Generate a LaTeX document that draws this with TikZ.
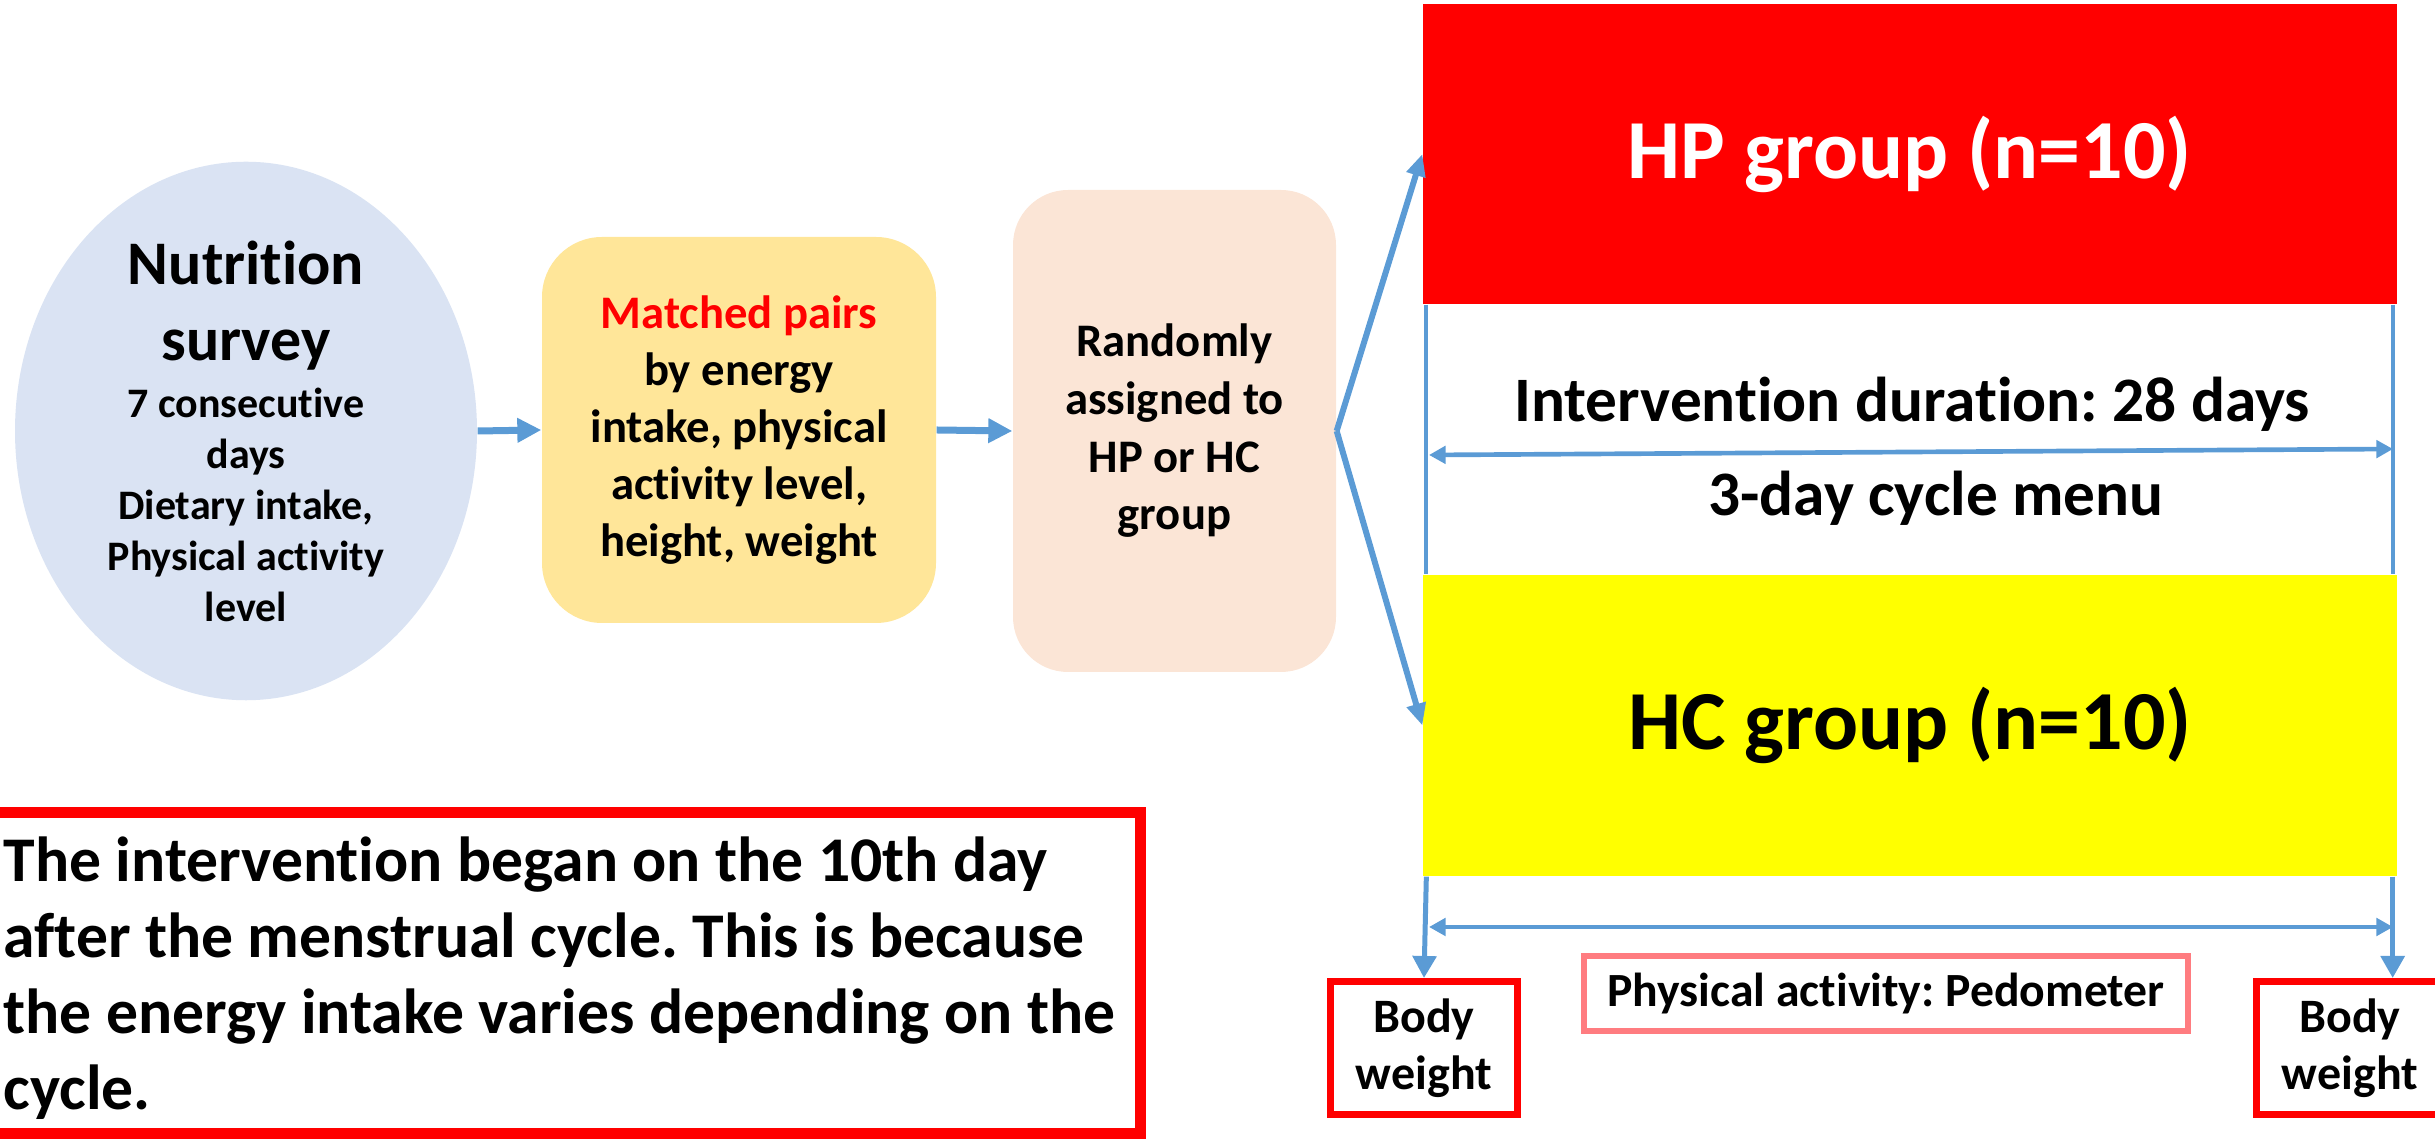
\documentclass[tikz,border=0pt]{standalone}
\usepackage{fontspec}
\setmainfont{Carlito}[Ligatures=NoCommon]
\usetikzlibrary{shapes.geometric,arrows.meta,calc}
\definecolor{arrowblue}{HTML}{5B9BD5}
\definecolor{surveyfill}{HTML}{DAE3F3}
\definecolor{matchfill}{HTML}{FFE699}
\definecolor{randfill}{HTML}{FBE5D6}
\definecolor{pinkline}{HTML}{FF7C80}
\definecolor{hpred}{HTML}{FF0000}
\definecolor{hcyellow}{HTML}{FFFF00}
\frenchspacing
\begin{document}
\begin{tikzpicture}[x=0.3pt,y=-0.3pt,
  surveynode/.style={ellipse, fill=surveyfill, minimum width=138.6pt, minimum height=141pt, inner sep=0pt, align=center, font=\bfseries\fontsize{12.6}{15.3}\selectfont},
  matchbox/.style={rectangle, rounded corners=18pt, fill=matchfill, minimum width=118.2pt, minimum height=115.8pt, inner sep=0pt, align=center, font=\bfseries\fontsize{14}{17.1}\selectfont},
  randbox/.style={rectangle, rounded corners=16.5pt, fill=randfill, minimum width=96.9pt, minimum height=144.6pt, inner sep=0pt, align=center, font=\bfseries\fontsize{14}{17.3}\selectfont},
  groupbox/.style={rectangle, minimum width=292.2pt, minimum height=90pt, inner sep=0pt, font=\bfseries\fontsize{25.2}{30}\selectfont},
  midlabel/.style={inner sep=0pt, font=\bfseries\fontsize{19}{23}\selectfont},
  bwbox/.style={rectangle, draw=hpred, line width=2.1pt, fill=white, minimum width=56.1pt, minimum height=39.9pt, inner sep=0pt, align=center, font=\bfseries\fontsize{14.4}{17.1}\selectfont},
  pedobox/.style={rectangle, draw=pinkline, line width=1.7pt, minimum width=181.2pt, minimum height=22.5pt, inner sep=0pt, font=\bfseries\fontsize{14.3}{17}\selectfont},
  notebox/.style={rectangle, draw=hpred, line width=3.3pt, minimum width=348.2pt, minimum height=96.3pt, inner sep=0pt},
  notetext/.style={inner sep=0pt, align=left, font=\bfseries\fontsize{19.1}{22.8}\selectfont},
  flowarrow/.style={draw=arrowblue, line width=2.1pt, -{Triangle[length=7.2pt,width=7pt]}},
  fanarrow/.style={draw=arrowblue, line width=1.8pt, -{Triangle[length=6.6pt,width=5.6pt]}},
  spanarrow/.style={draw=arrowblue, line width=1.4pt, {Triangle[length=5pt,width=5.2pt]}-{Triangle[length=5pt,width=5.2pt]}},
  guideline/.style={draw=arrowblue, line width=1.2pt},
  downarrow/.style={draw=arrowblue, line width=1.5pt, -{Triangle[length=6.6pt,width=7pt]}}
]
\useasboundingbox (0,0) rectangle (2435,1141);

% main flow
\node[surveynode] (survey) at (246,431)
  {{\fontsize{18.6}{22.8}\selectfont Nutrition}\\[7.5pt]
   {\fontsize{18.6}{22.8}\selectfont survey}\\[1.8pt]
   7 consecutive\\ days\\ Dietary intake,\\ Physical activity\\ level};
\node[matchbox] (match) at (739,430)
  {\textcolor{hpred}{Matched pairs}\\ by energy\\ intake, physical\\ activity level,\\ height, weight};
\node[randbox] (rand) at (1174.5,431)
  {Randomly\\ assigned to\\ HP or HC\\ group};

% groups
\node[groupbox, fill=hpred, text=white] (hp) at (1910,154) {HP group (n=10)};
\node[groupbox, fill=hcyellow, minimum height=90.3pt] (hc) at (1910,725.5) {HC group (n=10)};

\node[midlabel, anchor=base] (dur) at (1912,422) {Intervention duration: 28 days};
\node[midlabel, anchor=base] (menu) at (1936,516) {3-day cycle menu};

% bottom boxes
\node[bwbox] (bw1) at (1424,1048) {Body\\ weight};
\node[bwbox] (bw2) at (2350,1048) {Body\\ weight};
\node[pedobox] (pedo) at (1886,993.5) {Physical activity: Pedometer};

\node[notebox] (note) at (560,973) {};
\node[notetext, anchor=west] (notetxt) at (3,978)
  {The intervention began on the 10th day\\
   after the menstrual cycle. This is because\\
   the energy intake varies depending on the\\
   cycle.};

% connectors
\draw[flowarrow] (survey.east) -- (match.west);
\draw[flowarrow] (match.east) -- (rand.west);
\draw[fanarrow] (rand.east) -- (hp.west);
\draw[fanarrow] (rand.east) -- (hc.west);

\draw[guideline] ([xshift=1.2pt]hp.south west) -- ([xshift=1.2pt]hc.north west);
\draw[guideline] ([xshift=-1.5pt]hp.south east) -- ([xshift=-1.5pt]hc.north east);

\coordinate (durL) at (1429,455);
\coordinate (durR) at (2393,449);
\draw[spanarrow] (durL) -- (durR);

\coordinate (botL) at (1429,927);
\coordinate (botR) at (2393,927);
\draw[spanarrow] (botL) -- (botR);

\draw[downarrow] ([xshift=1.2pt]hc.south west) -- (bw1.north);
\draw[downarrow] ([xshift=-1.5pt]hc.south east) -- ([xshift=-1.5pt]hc.south east |- bw2.north);
\end{tikzpicture}
\end{document}
